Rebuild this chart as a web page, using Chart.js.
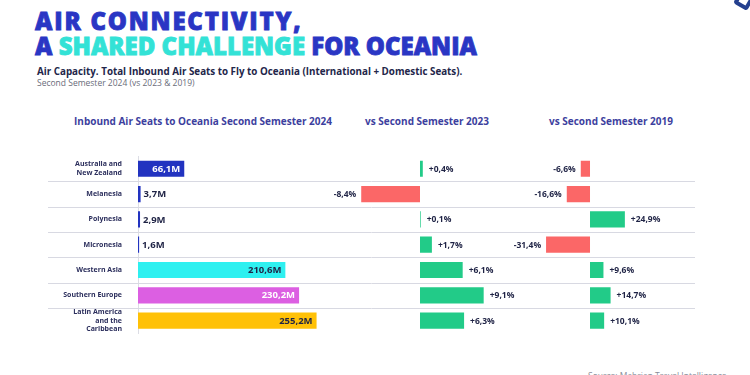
<!DOCTYPE html>
<html>
<head>
<meta charset="utf-8">
<script src="https://cdn.jsdelivr.net/npm/chart.js@4"></script>
<style>
  html, body { margin: 0; padding: 0; background: #fff; }
  body { width: 750px; height: 375px; position: relative; overflow: hidden; font-family: "Open Sans", sans-serif; }
  .title { position: absolute; left: 35px; top: 8px; font-size: 24px; line-height: 25px; font-weight: 800; color: #2a36c4; white-space: nowrap; -webkit-text-stroke: 0.8px #2a36c4; }
  .title .l1 { letter-spacing: 1.8px; }
  .title .cy { color: #33e2d6; -webkit-text-stroke: 0.8px #33e2d6; }
  .sub1 { position: absolute; left: 37px; top: 66px; font-size: 9.8px; line-height: 12px; font-weight: 700; color: #23264a; white-space: nowrap; }
  .sub2 { position: absolute; left: 37px; top: 78px; font-size: 8.5px; line-height: 10px; color: #6a6c7a; white-space: nowrap; }
  .head { position: absolute; top: 115px; width: 300px; text-align: center; font-size: 10px; line-height: 12px; font-weight: 700; color: #3d3f9e; white-space: nowrap; }
  .source { position: absolute; left: 588px; top: 370px; font-size: 8.5px; color: #8a8c98; white-space: nowrap; }
  .logo { position: absolute; left: 736px; top: -8px; width: 8px; height: 8px; border: 4px solid #24408e; border-radius: 3px; transform: rotate(30deg); }
  #wrap { position: absolute; left: 0; top: 135px; width: 750px; height: 215px; }
</style>
</head>
<body>
<div class="title"><span class="l1">AIR CONNECTIVITY,</span><br>A <span class="cy">SHARED CHALLENGE</span> FOR OCEANIA</div>
<div class="sub1">Air Capacity. Total Inbound Air Seats to Fly to Oceania (International + Domestic Seats).</div>
<div class="sub2">Second Semester 2024 (vs 2023 &amp; 2019)</div>
<div class="head" style="left:53px">Inbound Air Seats to Oceania Second Semester 2024</div>
<div class="head" style="left:277px">vs Second Semester 2023</div>
<div class="head" style="left:461px">vs Second Semester 2019</div>
<div class="logo"></div>
<div id="wrap"><canvas id="airChart"></canvas></div>
<div class="source">Source: Mabrian Travel Intelligence</div>

<script>
// 區域
const regions = [
    ['Australia and', 'New Zealand'],
    'Melanesia',
    'Polynesia',
    'Micronesia',
    'Western Asia',
    'Southern Europe',
    ['Latin America', 'and the', 'Caribbean']
];

// 座位數 (百萬)
const seats2024 = [66.1, 3.7, 2.9, 1.6, 210.6, 230.2, 255.2];

// 變化率 (%)
const changeVs2023 = [0.4, -8.4, 0.1, 1.7, 6.1, 9.1, 6.3];
const changeVs2019 = [-6.6, -16.6, 24.9, -31.4, 9.6, 14.7, 10.1];

// 顏色
const seatColors = ['#2233c0', '#2233c0', '#2233c0', '#2233c0', '#2ef0f0', '#dc5fe2', '#ffc107'];
const seatLabelColors = ['#ffffff', '#1f2345', '#1f2345', '#1f2345', '#1f2345', '#ffffff', '#1f2345'];
const green = '#22cb88';
const red = '#fb6767';
const textDark = '#1f2345';

const fmtSeats = v => v.toFixed(1).replace('.', ',') + 'M';
const fmtPct = v => (v >= 0 ? '+' : '') + v.toFixed(1).replace('.', ',') + '%';

// 行分隔線
const rowLines = {
    id: 'rowLines',
    beforeDatasetsDraw(chart) {
        const { ctx, chartArea, scales: { y } } = chart;
        ctx.save();
        ctx.strokeStyle = '#d8d9e2';
        ctx.lineWidth = 1;
        for (let i = 1; i < regions.length; i++) {
            const yy = Math.round((y.getPixelForValue(i - 1) + y.getPixelForValue(i)) / 2) + 0.5;
            ctx.beginPath();
            ctx.moveTo(48, yy);
            ctx.lineTo(chartArea.right, yy);
            ctx.stroke();
        }
        ctx.restore();
    }
};

// 數值標籤
const valueLabels = {
    id: 'valueLabels',
    afterDatasetsDraw(chart) {
        const ctx = chart.ctx;
        ctx.save();
        ctx.textBaseline = 'middle';
        chart.data.datasets.forEach((ds, d) => {
            const meta = chart.getDatasetMeta(d);
            meta.data.forEach((bar, i) => {
                const v = ds.data[i];
                if (d === 0) {
                    ctx.font = 'bold 9.5px "Open Sans"';
                    const txt = fmtSeats(v);
                    const tw = ctx.measureText(txt).width;
                    if (bar.x - bar.base > tw + 10) {
                        ctx.textAlign = 'right';
                        ctx.fillStyle = seatLabelColors[i];
                        ctx.fillText(txt, bar.x - 4, bar.y + 0.5);
                    } else {
                        ctx.textAlign = 'left';
                        ctx.fillStyle = textDark;
                        ctx.fillText(txt, Math.max(bar.x, bar.base) + 3, bar.y + 0.5);
                    }
                } else {
                    ctx.font = 'bold 8.5px "Open Sans"';
                    ctx.fillStyle = textDark;
                    const txt = fmtPct(v);
                    if (v >= 0) {
                        ctx.textAlign = 'left';
                        ctx.fillText(txt, bar.x + 6, bar.y + 0.5);
                    } else {
                        ctx.textAlign = 'right';
                        ctx.fillText(txt, bar.x - 5, bar.y + 0.5);
                    }
                }
            });
        });
        ctx.restore();
    }
};

const signColor = c => (c.raw >= 0 ? green : red);

new Chart(document.getElementById('airChart').getContext('2d'), {
    type: 'bar',
    data: {
        labels: regions,
        datasets: [
            { data: seats2024, xAxisID: 'x', backgroundColor: seatColors, grouped: false },
            { data: changeVs2023, xAxisID: 'x2', backgroundColor: signColor, grouped: false },
            { data: changeVs2019, xAxisID: 'x3', backgroundColor: signColor, grouped: false }
        ]
    },
    options: {
        indexAxis: 'y',
        responsive: true,
        maintainAspectRatio: false,
        animation: false,
        layout: { padding: { top: 5, bottom: 5, right: 55, left: 0 } },
        datasets: { bar: { categoryPercentage: 1, barPercentage: 0.64 } },
        plugins: { legend: { display: false }, tooltip: { enabled: false } },
        scales: {
            y: {
                grid: { display: false },
                border: { display: true, color: '#dcdde5' },
                ticks: {
                    padding: 8,
                    color: '#2b2e5c',
                    font: { family: 'Open Sans', size: 7, weight: 'bold', lineHeight: 1.25 }
                },
                afterFit: s => { s.width = 138; }
            },
            x: { type: 'linear', display: false, min: 0, max: 796 },
            x2: { type: 'linear', display: false, min: -40.3, max: 39.3 },
            x3: { type: 'linear', display: false, min: -322.9, max: 75 }
        }
    },
    plugins: [rowLines, valueLabels]
});
</script>
</body>
</html>
